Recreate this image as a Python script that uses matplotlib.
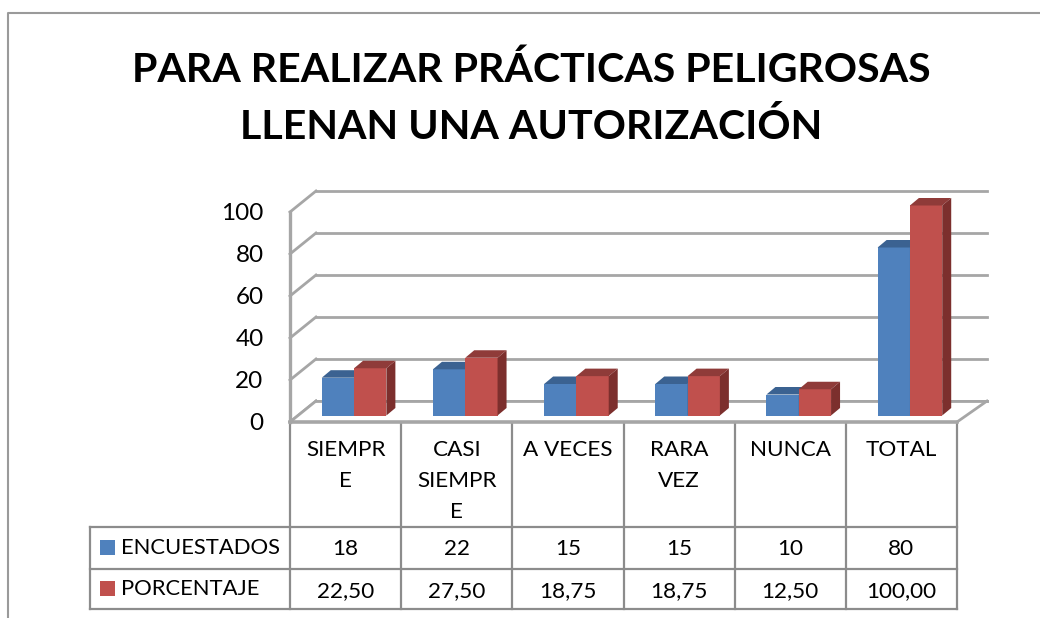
import matplotlib
matplotlib.use("Agg")
import matplotlib.pyplot as plt
from matplotlib.patches import Polygon, Rectangle

plt.rcParams['font.family'] = ['Lato', 'DejaVu Sans']

# data
title_lines = ["PARA REALIZAR PRÁCTICAS PELIGROSAS", "LLENAN UNA AUTORIZACIÓN"]
categories = ["SIEMPR\nE", "CASI\nSIEMPR\nE", "A VECES", "RARA\nVEZ", "NUNCA", "TOTAL"]
encuestados = [18, 22, 15, 15, 10, 80]
porcentaje = [22.50, 27.50, 18.75, 18.75, 12.50, 100.00]
enc_labels = ["18", "22", "15", "15", "10", "80"]
por_labels = ["22,50", "27,50", "18,75", "18,75", "12,50", "100,00"]
yticks = [0, 20, 40, 60, 80, 100]

W, H = 1040, 618
BLUE, BLUE_TOP = "#4f81bd", "#3b6291"
RED, RED_TOP, RED_SIDE = "#c0504d", "#8f3b39", "#7c2f2d"
GRID = "#a6a6a6"
TABLE = "#8c8c8c"

fig = plt.figure(figsize=(W / 100, H / 100), dpi=100)

# overlay in pixels for the frame and table
ov = fig.add_axes([0, 0, 1, 1])
ov.set_xlim(0, W)
ov.set_ylim(H, 0)
ov.axis("off")

# chart frame runs off the right and bottom of the crop
ov.plot([8, 8, W], [H, 13, 13], color="#9a9a9a", lw=1.5)

for i, line in enumerate(title_lines):
    ov.text(531, 70 + i * 57, line, ha="center", va="center", fontsize=29.6,
            fontweight="bold", color="black")

# front plane of the 3d plot
left, right, base, top = 290, 957, 422, 212
ax = fig.add_axes([left / W, 1 - base / H, (right - left) / W, (base - top) / H])
ax.set_xlim(0, 6)
ax.set_ylim(0, 100)
ax.patch.set_alpha(0)
for s in ["top", "right", "bottom"]:
    ax.spines[s].set_visible(False)
ax.spines["left"].set_color(GRID)
ax.spines["left"].set_linewidth(2.4)
ax.set_xticks([])
ax.set_yticks(yticks)
ax.tick_params(axis="y", length=0, pad=19, labelsize=17.5, labelcolor="black")

px = 6 / (right - left)
py = 100 / (base - top)
back_x, back_y = 26 * px, 21 * py

# back wall gridlines and side wall slants
for v in yticks:
    ax.plot([0, back_x], [v, v + back_y], color=GRID, lw=2, clip_on=False, zorder=1)
    ax.plot([back_x, 6 + 30 * px], [v + back_y, v + back_y], color=GRID, lw=2,
            clip_on=False, zorder=1)
# floor front edge and right slant
ax.add_patch(Polygon([(0, 0), (back_x, back_y), (6 + 30 * px, back_y), (6, 0)],
                     closed=True, fc="white", ec="none", zorder=1.5, clip_on=False))
ax.plot([back_x, 6 + 30 * px], [back_y, back_y], color=GRID, lw=2, clip_on=False, zorder=1.6)
ax.plot([0, back_x], [0, back_y], color=GRID, lw=2, clip_on=False, zorder=1.6)
ax.plot([0, 6], [0, 0], color=GRID, lw=2.6, clip_on=False, zorder=1.6)
ax.plot([6, 6 + 30 * px], [0, back_y], color=GRID, lw=2, clip_on=False, zorder=1.6)

# bars, shifted into the depth of the floor
bar_w = 32.3 * px
off_x, off_y = 8.5 * px, 6.5 * py
dep_x, dep_y = 9 * px, 7.5 * py


def draw_bars(values, start, face, top_c, side, z):
    for i, v in enumerate(values):
        x0 = i + 0.5 + off_x + start * bar_w
        ax.bar(x0, v, width=bar_w, bottom=off_y, align="edge", color=face,
               zorder=z, clip_on=False)
        y1 = off_y + v
        ax.add_patch(Polygon([(x0, y1), (x0 + dep_x, y1 + dep_y),
                              (x0 + bar_w + dep_x, y1 + dep_y), (x0 + bar_w, y1)],
                             closed=True, fc=top_c, ec="none", zorder=z, clip_on=False))
        ax.add_patch(Polygon([(x0 + bar_w, off_y), (x0 + bar_w + dep_x, off_y + dep_y),
                              (x0 + bar_w + dep_x, y1 + dep_y), (x0 + bar_w, y1)],
                             closed=True, fc=side, ec="none", zorder=z, clip_on=False))


draw_bars(encuestados, -1, BLUE, BLUE_TOP, BLUE_TOP, 3)
draw_bars(porcentaje, 0, RED, RED_TOP, RED_SIDE, 4)

# data table under the plot
col_w = (right - left) / 6
row_top, row_mid, row_bot = 527, 569, 609
for i in range(7):
    ov.plot([left + i * col_w] * 2, [base, row_bot], color=TABLE, lw=1.6, zorder=2)
ov.plot([90, right], [row_top] * 2, color=TABLE, lw=1.6)
ov.plot([90, right], [row_mid] * 2, color=TABLE, lw=1.6)
ov.plot([90, right], [row_bot] * 2, color=TABLE, lw=1.6)
ov.plot([90, 90], [row_top, row_bot], color=TABLE, lw=1.6)

for i, cat in enumerate(categories):
    cx = left + (i + 0.5) * col_w
    for j, part in enumerate(cat.split("\n")):
        ov.text(cx, 450 + j * 31, part, ha="center", va="center", fontsize=16.2)
    ov.text(cx, 549, enc_labels[i], ha="center", va="center", fontsize=16.2)
    ov.text(cx, 591, por_labels[i], ha="center", va="center", fontsize=16.2)

ov.add_patch(Rectangle((100, 540), 15, 15, fc=BLUE, ec="none"))
ov.add_patch(Rectangle((100, 581), 15, 15, fc=RED, ec="none"))
ov.text(121, 548, "ENCUESTADOS", ha="left", va="center", fontsize=15.8)
ov.text(121, 589, "PORCENTAJE", ha="left", va="center", fontsize=15.8)

fig.savefig("out.png", dpi=100)
plt.close()
